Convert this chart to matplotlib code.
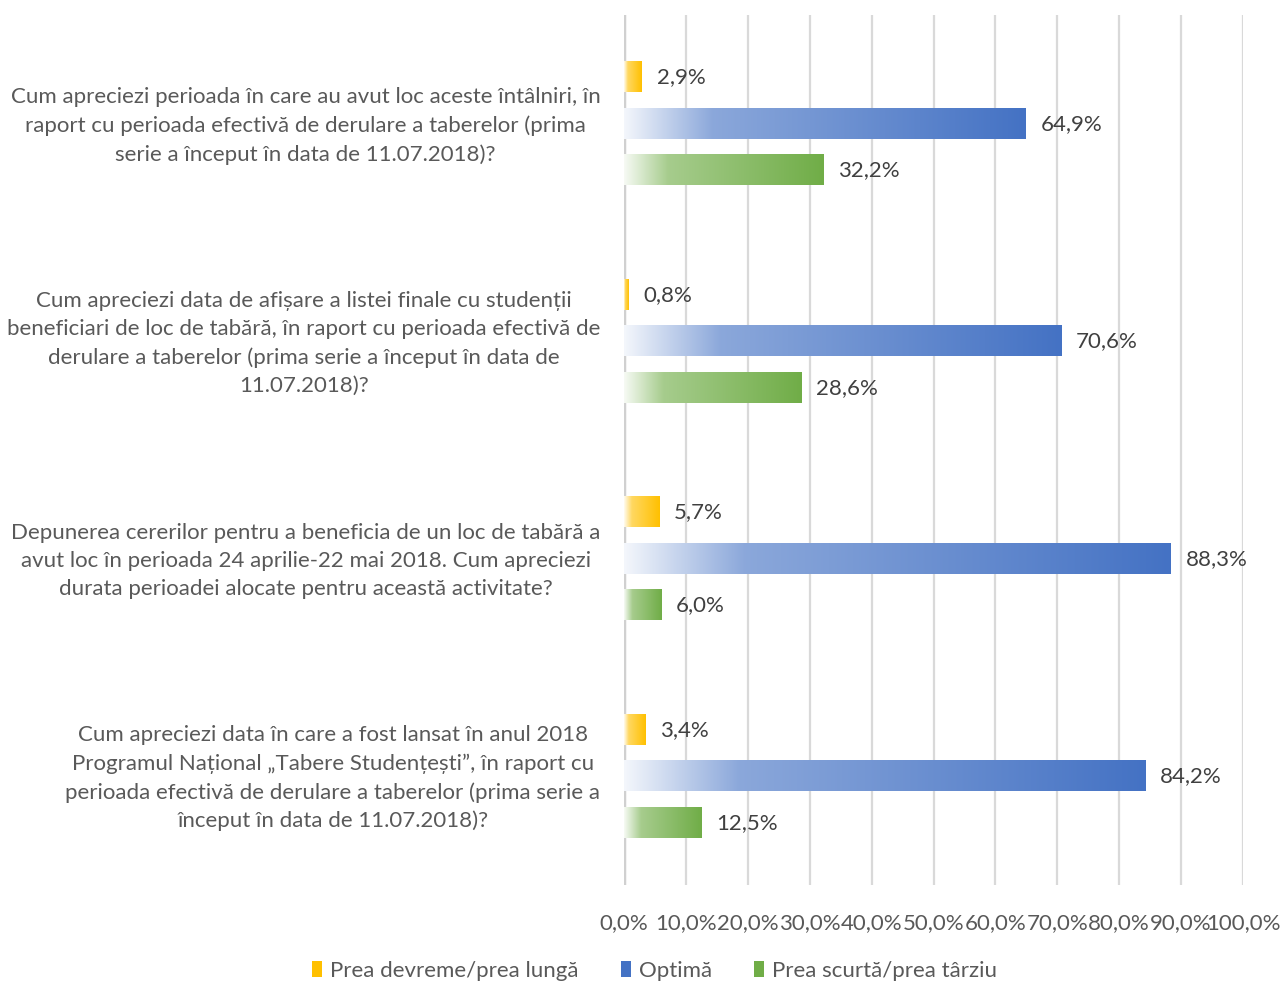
import numpy as np
import matplotlib
matplotlib.use("Agg")
import matplotlib.pyplot as plt
from matplotlib.patches import Patch
from matplotlib.colors import to_rgb

plt.rcParams["font.family"] = ["Lato", "DejaVu Sans"]

questions = [
    "Cum apreciezi perioada în care au avut loc aceste întâlniri, în\n"
    "raport cu perioada efectivă de derulare a taberelor (prima\n"
    "serie a început în data de 11.07.2018)?",
    "Cum apreciezi data de afișare a listei finale cu studenții\n"
    "beneficiari de loc de tabără, în raport cu perioada efectivă de\n"
    "derulare a taberelor (prima serie a început în data de\n"
    "11.07.2018)?",
    "Depunerea cererilor pentru a beneficia de un loc de tabără a\n"
    "avut loc în perioada 24 aprilie-22 mai 2018. Cum apreciezi\n"
    "durata perioadei alocate pentru această activitate?",
    "Cum apreciezi data în care a fost lansat în anul 2018\n"
    "Programul Național „Tabere Studențești”, în raport cu\n"
    "perioada efectivă de derulare a taberelor (prima serie a\n"
    "început în data de 11.07.2018)?",
]
series_names = ["Prea devreme/prea lungă", "Optimă", "Prea scurtă/prea târziu"]
prea_devreme = [2.9, 0.8, 5.7, 3.4]
optima = [64.9, 70.6, 88.3, 84.2]
prea_scurta = [32.2, 28.6, 6.0, 12.5]
colors = ["#FFC000", "#4472C4", "#70AD47"]

TXT = "#595959"
FS = 16

fig = plt.figure(figsize=(12.81, 9.81), dpi=100)
ax = fig.add_axes([624 / 1281, 1 - 885 / 981, 619 / 1281, 870 / 981])

n = len(questions)
bar_h = 0.138
offs = [-0.214, 0.0, 0.214]


def grad_img(col):
    # white -> colour, quick ramp on the first fifth of the bar, like Excel's gradient fill
    c = np.array(to_rgb(col))
    t = np.linspace(0, 1, 256)
    a = np.interp(t, [0, 0.22, 1], [0.06, 0.62, 1.0])
    rgb = (1 - a)[:, None] * np.ones(3) + a[:, None] * c
    return rgb[None, :, :]


for vals, off, col in zip([prea_devreme, optima, prea_scurta], offs, colors):
    img = grad_img(col)
    for i, v in enumerate(vals):
        y = i + off
        ax.imshow(img, extent=[0, v, y + bar_h / 2, y - bar_h / 2],
                  aspect="auto", interpolation="bilinear", zorder=2)
        ax.text(v + 2.4, y, f"{v:.1f}".replace(".", ",") + "%", ha="left",
                va="center", fontsize=FS, color="#404040", zorder=3)

ax.set_ylim(n - 0.5, -0.5)
ax.set_xlim(0, 100)

ax.set_xticks(np.arange(0, 101, 10))
ax.set_xticklabels([f"{x},0%" for x in range(0, 101, 10)], fontsize=FS, color=TXT)
ax.tick_params(axis="x", length=0, pad=20)
ax.grid(axis="x", color="#D9D9D9", linewidth=1.6, zorder=0)
ax.set_axisbelow(True)
ax.axvline(0, color="#D0D0D0", linewidth=2.5, zorder=1)

ax.set_yticks(range(n))
ax.set_yticklabels(questions, fontsize=FS, color=TXT, multialignment="center",
                   linespacing=1.5)
ax.tick_params(axis="y", length=0, pad=17)
for lbl in ax.get_yticklabels():
    lbl.set_y(lbl.get_position()[1])
    lbl.set_transform(lbl.get_transform() + matplotlib.transforms.ScaledTranslation(0, 3 / 72, fig.dpi_scale_trans))
for s in ax.spines.values():
    s.set_visible(False)

handles = [Patch(facecolor=c, edgecolor="none") for c in colors]
fig.legend(handles, series_names, loc="center", bbox_to_anchor=(0.511, 1 - 971 / 981),
           ncol=3, frameon=False, fontsize=FS, handlelength=0.45, handleheight=0.7,
           handletextpad=0.35, columnspacing=1.9, labelcolor=TXT)

fig.savefig("out.png", dpi=100)
